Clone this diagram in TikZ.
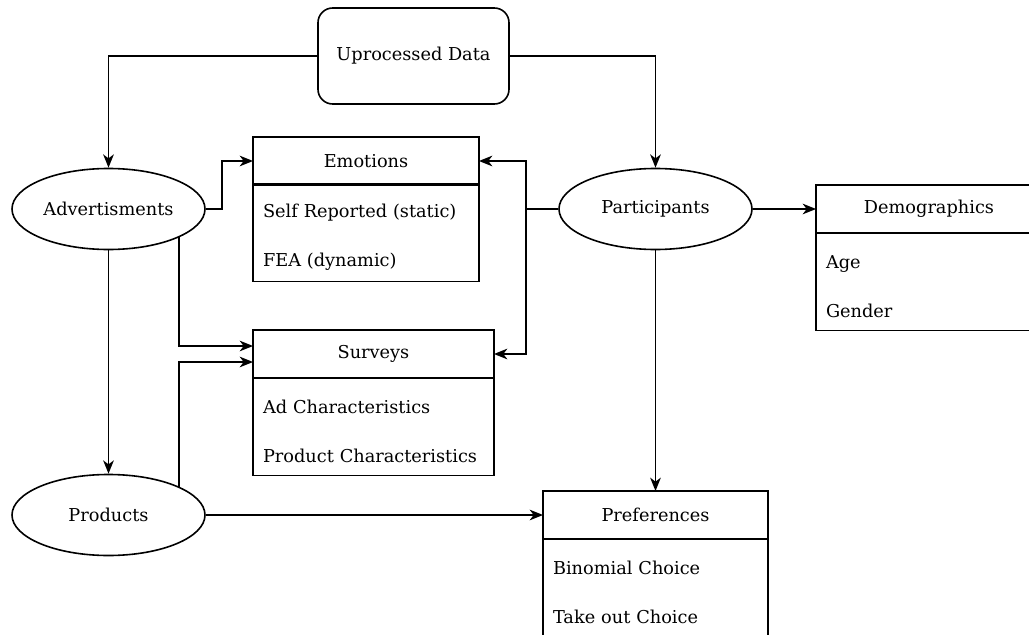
\documentclass[tikz,border=0pt]{standalone}
\usepackage{fontspec}
\setmainfont{DejaVu Serif}
\usetikzlibrary{shapes.geometric,arrows.meta}

\begin{document}
\begin{tikzpicture}[x=0.75pt,y=-0.75pt,line width=1.2pt,
	font=\fontsize{13.3}{15}\selectfont,
	ent/.style={draw,ellipse,minimum width=144.75pt,minimum height=60.75pt,inner sep=0pt},
	hdr/.style={draw,rectangle,minimum width=#1,minimum height=36pt,inner sep=0pt,outer sep=0pt,anchor=north west},
	itm/.style={draw,rectangle,text width=#1,minimum height=73pt,inner xsep=7.5pt,inner ysep=0pt,outer sep=0pt,
		align=left,anchor=north west,font=\fontsize{13.3}{36.75}\selectfont,
		execute at begin node=\rule{0pt}{17pt}},
	>={Stealth[length=10pt,width=8pt,inset=3pt]}]
	\useasboundingbox (0,0) rectangle (1029,635);
	\node[draw,rounded corners=11pt,minimum width=143.25pt,minimum height=72pt] (raw) at (413.5,56) {Uprocessed Data};
	\node[ent] (adv) at (108.5,209) {Advertisments};
	\node[ent] (par) at (655.5,209) {Participants};
	\node[ent] (prd) at (108.5,515) {Products};
	\node[hdr=169.5pt] (emoh) at (253,137) {Emotions};
	\node[itm=154.5pt] (emob) at (253,184) {Self Reported (static)\\FEA (dynamic)};
	\node[hdr=180.75pt] (srvh) at (253,330) {Surveys};
	\node[itm=165.75pt] (srvb) at (253,378) {Ad Characteristics\\Product Characteristics};
	\node[hdr=169.5pt] (demh) at (816,185) {Demographics};
	\node[itm=154.5pt] (demb) at (816,233) {Age\\Gender};
	\node[hdr=168.75pt] (prfh) at (543,491) {Preferences};
	\node[itm=153.75pt] (prfb) at (543,539) {Binomial Choice\\Take out Choice};
	\draw[->] (raw.west) -| (adv.north);
	\draw[->] (raw.east) -| (par.north);
	\draw[->] (adv.east) -- ++(16,0) |- (emoh.west);
	\draw[->] (par.west) -- ++(-32,0) coordinate (pj) |- (emoh.east);
	\draw[->] (pj) |- (srvh.east);
	\draw[->] (adv.-22) |- ([yshift=6pt]srvh.west);
	\draw[->] (prd.22) |- ([yshift=-6pt]srvh.west);
	\draw[->] (adv.south) -- (prd.north);
	\draw[->] (prd.east) -- (prfh.west);
	\draw[->] (par.south) -- (prfh.north);
	\draw[->] (par.east) -- (demh.west);
\end{tikzpicture}
\end{document}
